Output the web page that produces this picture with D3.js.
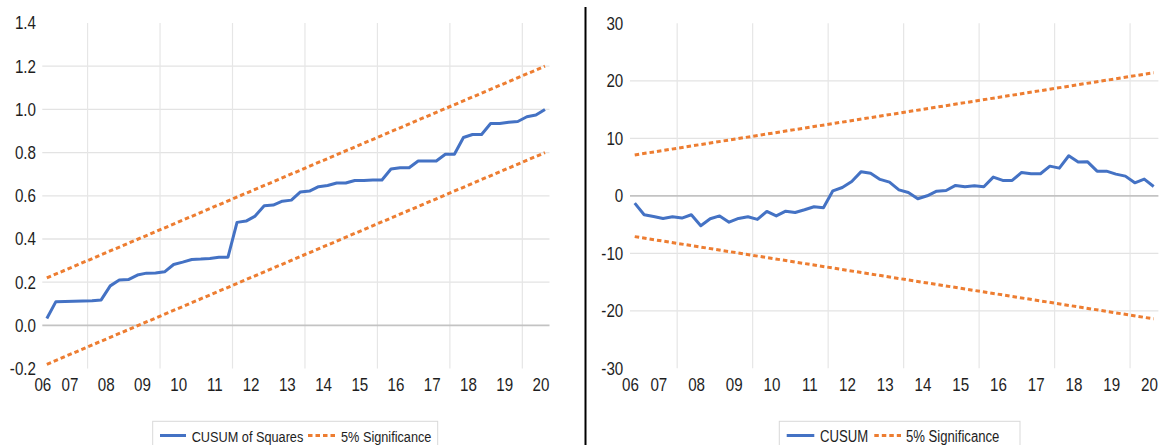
<!DOCTYPE html>
<html><head><meta charset="utf-8">
<script src="https://cdn.jsdelivr.net/npm/d3@7"></script>
<style>
html,body{margin:0;padding:0;background:#fff;}
svg text{font-family:"Liberation Sans",Arial,sans-serif;fill:#1e1e1e;}
</style></head>
<body>
<svg id="chart" width="1160" height="445"></svg>
<script>
// ---------- DATA ----------
const quarters = [
 "2006Q2","2006Q3","2006Q4",
 "2007Q1","2007Q2","2007Q3","2007Q4",
 "2008Q1","2008Q2","2008Q3","2008Q4",
 "2009Q1","2009Q2","2009Q3","2009Q4",
 "2010Q1","2010Q2","2010Q3","2010Q4",
 "2011Q1","2011Q2","2011Q3","2011Q4",
 "2012Q1","2012Q2","2012Q3","2012Q4",
 "2013Q1","2013Q2","2013Q3","2013Q4",
 "2014Q1","2014Q2","2014Q3","2014Q4",
 "2015Q1","2015Q2","2015Q3","2015Q4",
 "2016Q1","2016Q2","2016Q3","2016Q4",
 "2017Q1","2017Q2","2017Q3","2017Q4",
 "2018Q1","2018Q2","2018Q3","2018Q4",
 "2019Q1","2019Q2","2019Q3","2019Q4",
 "2020Q1"];
const yearLabels   = ["06","07","08","09","10","11","12","13","14","15","16","17","18","19","20"];
const yearLabelQtr = ["2006Q2","2007Q1","2008Q1","2009Q1","2010Q1","2011Q1","2012Q1","2013Q1",
                      "2014Q1","2015Q1","2016Q1","2017Q1","2018Q1","2019Q1","2020Q1"];
const gridQtr      = ["2007Q3","2009Q3","2011Q3","2013Q3","2015Q3","2017Q3","2019Q3"];

const cusumSq = [0.032,0.110,0.111,0.112,0.113,0.114,0.118,0.183,0.210,0.212,
                 0.233,0.242,0.243,0.248,0.282,0.293,0.305,0.307,0.310,0.315,
                 0.316,0.477,0.483,0.506,0.554,0.557,0.575,0.580,0.618,0.622,
                 0.642,0.648,0.659,0.659,0.671,0.671,0.673,0.673,0.724,0.730,
                 0.730,0.761,0.761,0.761,0.792,0.792,0.870,0.884,0.884,0.935,
                 0.935,0.941,0.944,0.966,0.974,1.000];
const sqBoundQtr = ["2006Q2","2020Q1"];
const sqUpper = [0.22, 1.20];
const sqLower = [-0.18, 0.80];

const cusum = [-1.28,-3.30,-3.60,-3.94,-3.65,-3.88,-3.30,-5.20,-4.00,-3.50,
               -4.58,-3.94,-3.65,-4.10,-2.72,-3.50,-2.67,-2.90,-2.43,-1.91,
               -2.09,0.87,1.45,2.49,4.20,3.94,2.85,2.38,1.04,0.58,
               -0.52,0.00,0.81,0.93,1.80,1.57,1.74,1.57,3.25,2.67,
               2.67,4.06,3.83,3.83,5.16,4.81,6.96,5.86,5.91,4.29,
               4.29,3.77,3.42,2.26,2.90,1.62];
const cuBoundQtr = ["2006Q2","2020Q1"];
const cuUpper = [7.1, 21.4];
const cuLower = [-7.1, -21.4];

const leftYTicks  = [-0.2,0,0.2,0.4,0.6,0.8,1.0,1.2,1.4];
const leftYLabels = ["-0.2","0.0","0.2","0.4","0.6","0.8","1.0","1.2","1.4"];
const rightYTicks  = [-30,-20,-10,0,10,20,30];
const rightYLabels = ["-30","-20","-10","0","10","20","30"];

const legendLeft  = ["CUSUM of Squares","5% Significance"];
const legendRight = ["CUSUM","5% Significance"];

// ---------- DRAW ----------
const svg = d3.select("#chart");
const BLUE = "#4472C4", ORANGE = "#ED7D31";
const NARROW = 0.82;

function narrow(sel){
  sel.each(function(){
    const w = this.getComputedTextLength();
    this.setAttribute("lengthAdjust", "spacingAndGlyphs");
    this.setAttribute("textLength", (w * NARROW).toFixed(2));
  });
}

function panel(cfg){
  const g = svg.append("g");
  const x = d3.scaleBand().domain(quarters).range([cfg.x0, cfg.x1]).padding(0);
  const xi = d3.scaleLinear().domain([0, quarters.length]).range([cfg.x0, cfg.x1]);
  const y = d3.scaleLinear().domain(cfg.yDomain).range([cfg.yB, cfg.yT]);
  const cx = q => x(q) + x.bandwidth()/2;

  g.append("g").selectAll("line")
    .data(cfg.yTicks.filter(v => v !== 0 && v !== cfg.yDomain[0] && v !== cfg.yDomain[1]))
    .join("line")
    .attr("x1", cfg.x0).attr("x2", cfg.x1)
    .attr("y1", d => y(d)).attr("y2", d => y(d))
    .attr("stroke", "#e3e3e3").attr("stroke-width", 1.3);
  g.append("g").selectAll("line").data(gridQtr).join("line")
    .attr("x1", d => x(d)).attr("x2", d => x(d))
    .attr("y1", cfg.yT).attr("y2", cfg.yB)
    .attr("stroke", "#e6e6e6").attr("stroke-width", 1.2);
  g.append("line").attr("x1", cfg.x0).attr("x2", cfg.x1)
    .attr("y1", y(0)).attr("y2", y(0))
    .attr("stroke", "#c3c3c3").attr("stroke-width", 1.8);

  const ya = g.append("g").attr("transform", `translate(${cfg.x0},0)`)
    .call(d3.axisLeft(y).tickValues(cfg.yTicks).tickSize(0).tickPadding(cfg.yPad)
      .tickFormat((d,i) => cfg.yLabels[i]));
  ya.select(".domain").remove();
  ya.attr("font-family", null).attr("font-size", null);
  ya.selectAll("text").attr("font-size", 18.5).attr("fill", "#1e1e1e").call(narrow);

  const xa = g.append("g").attr("transform", `translate(0,${cfg.yB})`)
    .call(d3.axisBottom(xi).tickValues(yearLabelQtr.map(q => quarters.indexOf(q)))
      .tickSize(0).tickPadding(9.7).tickFormat((d,i) => yearLabels[i]));
  xa.select(".domain").remove();
  xa.attr("font-family", null).attr("font-size", null);
  xa.selectAll("text").attr("font-size", 18.5).attr("fill", "#1e1e1e").call(narrow);

  [cfg.up, cfg.lo].forEach(arr => {
    g.append("path")
      .datum(arr.map((v,i) => [cfg.bq[i], v]))
      .attr("d", d3.line().x(d => cx(d[0])).y(d => y(d[1])))
      .attr("fill", "none").attr("stroke", ORANGE).attr("stroke-width", 3)
      .attr("stroke-dasharray", "4.5,3");
  });
  g.append("path")
    .datum(cfg.series.map((v,i) => [quarters[i], v]))
    .attr("d", d3.line().x(d => cx(d[0])).y(d => y(d[1])))
    .attr("fill", "none").attr("stroke", BLUE).attr("stroke-width", 3)
    .attr("stroke-linejoin", "round");

  const L = cfg.leg;
  const lg = svg.append("g");
  lg.append("rect").attr("x", L.bx0).attr("y", 421.3).attr("width", L.bx1 - L.bx0).attr("height", 40)
    .attr("fill", "#fff").attr("stroke", "#d9d9d9").attr("stroke-width", 1);
  lg.append("line").attr("x1", L.s1[0]).attr("x2", L.s1[1]).attr("y1", 435.5).attr("y2", 435.5)
    .attr("stroke", BLUE).attr("stroke-width", 3);
  lg.append("text").attr("x", L.t1).attr("y", 442).attr("font-size", L.fs).text(cfg.legText[0]).call(narrow);
  lg.append("line").attr("x1", L.s2[0]).attr("x2", L.s2[1]).attr("y1", 435.5).attr("y2", 435.5)
    .attr("stroke", ORANGE).attr("stroke-width", 3).attr("stroke-dasharray", "4.5,3");
  lg.append("text").attr("x", L.t2).attr("y", 442).attr("font-size", L.fs).text(cfg.legText[1]).call(narrow);
}

panel({x0:42.3, x1:549.5, yT:23, yB:368.6, yDomain:[-0.2,1.4],
  yTicks:leftYTicks, yLabels:leftYLabels, yPad:6.3,
  series:cusumSq, up:sqUpper, lo:sqLower, bq:sqBoundQtr,
  legText:legendLeft,
  leg:{bx0:152.7, bx1:437.7, s1:[160,186], t1:191.7, s2:[308,335], t2:341, fs:15.5}});

panel({x0:630, x1:1158.4, yT:23.3, yB:368.3, yDomain:[-30,30],
  yTicks:rightYTicks, yLabels:rightYLabels, yPad:6.7,
  series:cusum, up:cuUpper, lo:cuLower, bq:cuBoundQtr,
  legText:legendRight,
  leg:{bx0:779.3, bx1:1020, s1:[786.7,814.3], t1:820, s2:[874.3,901], t2:906, fs:16}});

svg.append("line").attr("x1", 585.5).attr("x2", 585.5).attr("y1", 7).attr("y2", 445)
  .attr("stroke", "#000").attr("stroke-width", 2);
</script>
</body></html>
